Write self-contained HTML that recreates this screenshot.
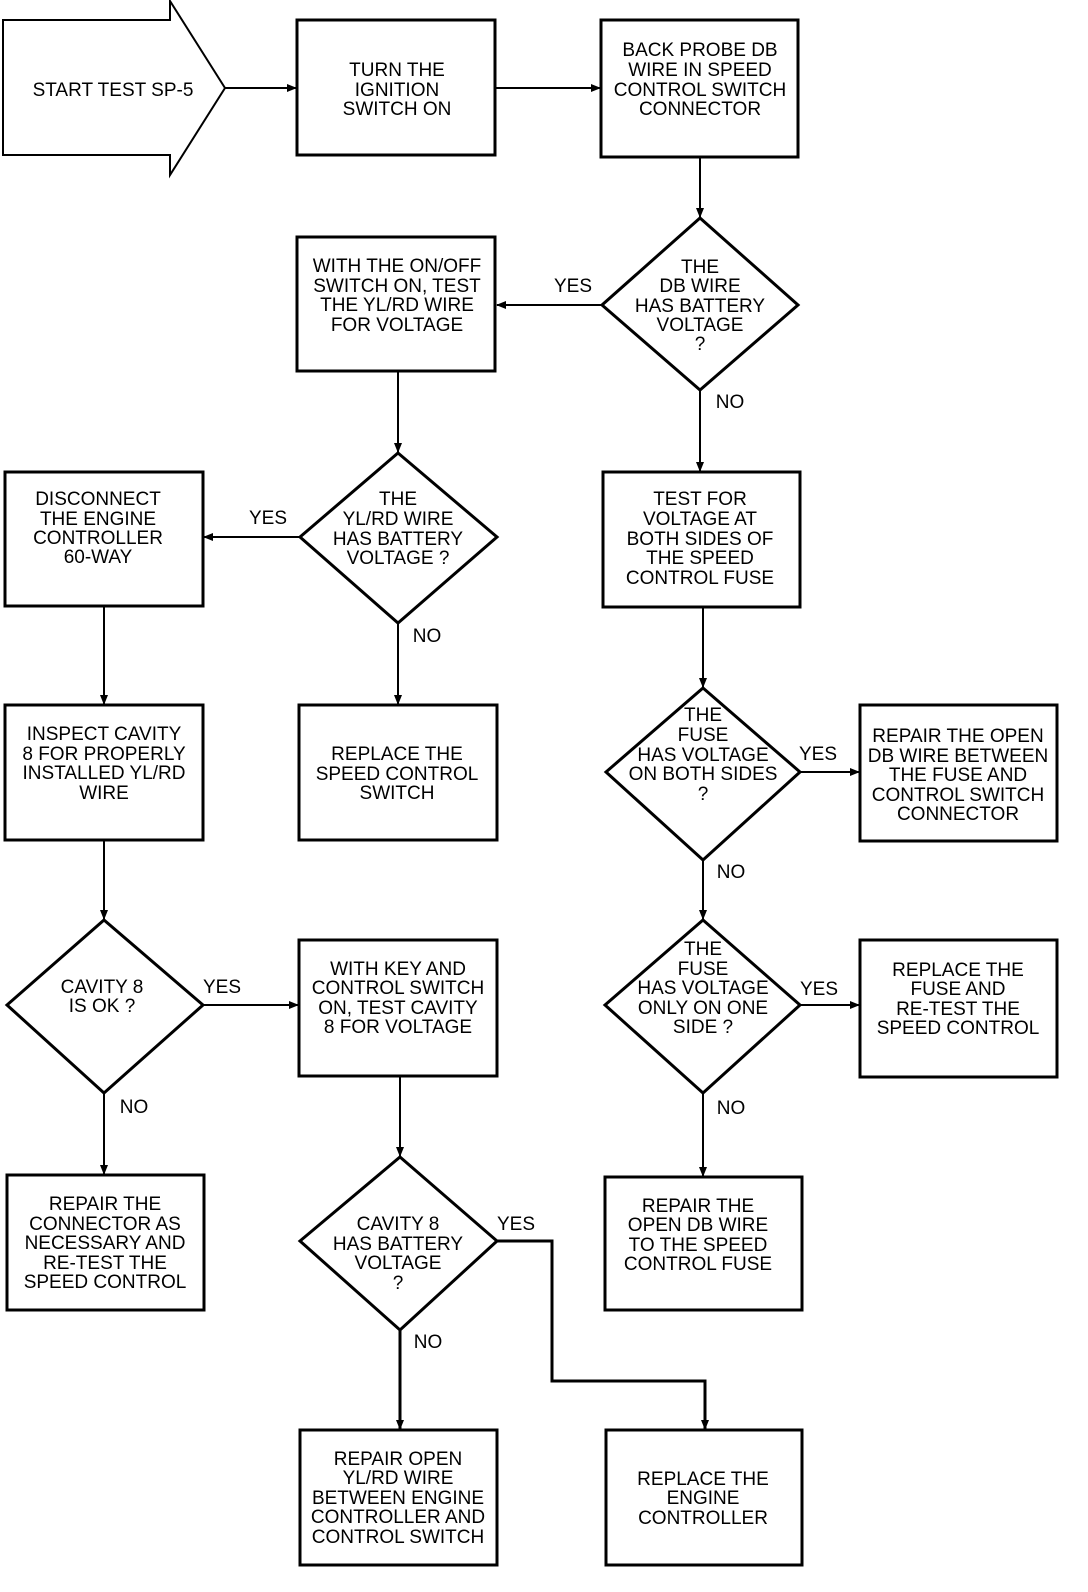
<!DOCTYPE html>
<html><head><meta charset="utf-8"><style>
html,body{margin:0;padding:0;background:#fff}
svg{display:block}
text{font-family:"Liberation Sans",sans-serif;font-size:19px;text-anchor:middle;fill:#000}
</style></head><body>
<svg width="1088" height="1592" viewBox="0 0 1088 1592" xmlns="http://www.w3.org/2000/svg">
<defs><marker id="a" markerWidth="10" markerHeight="8" refX="9" refY="4" orient="auto" markerUnits="userSpaceOnUse"><path d="M0,0 L10,4 L0,8 z" fill="#000"/></marker></defs>
<g fill="none" stroke="#000" stroke-width="3">
<path d="M3,20 H170 V1 L225,88 L170,175 V155 H3 Z" stroke-width="2"/>
<rect x="297" y="20" width="198" height="135"/>
<rect x="601" y="20" width="197" height="137"/>
<rect x="297" y="237" width="198" height="134"/>
<rect x="603" y="472" width="197" height="135"/>
<rect x="5" y="472" width="198" height="134"/>
<rect x="299" y="705" width="198" height="135"/>
<rect x="5" y="705" width="198" height="135"/>
<rect x="860" y="705" width="197" height="136"/>
<rect x="860" y="940" width="197" height="137"/>
<rect x="605" y="1177" width="197" height="133"/>
<rect x="299" y="940" width="198" height="136"/>
<rect x="7" y="1175" width="197" height="135"/>
<rect x="300" y="1430" width="197" height="135"/>
<rect x="606" y="1430" width="196" height="135"/>
<path d="M700,218 L798,305 L700,390 L602,305 Z"/>
<path d="M398,453 L497,537 L398,623 L300,537 Z"/>
<path d="M703,688 L800,772 L703,860 L606,772 Z"/>
<path d="M703,920 L800,1005 L703,1093 L605,1005 Z"/>
<path d="M104,920 L203,1005 L104,1093 L7,1005 Z"/>
<path d="M400,1157 L497,1241 L400,1330 L300,1241 Z"/>
</g>
<g fill="none" stroke="#000" stroke-width="2" marker-end="url(#a)">
<path d="M225,88 H296"/>
<path d="M495,88 H600"/>
<path d="M700,157 V217"/>
<path d="M602,305 H497"/>
<path d="M700,390 V471"/>
<path d="M398,371 V452"/>
<path d="M300,537 H204"/>
<path d="M398,623 V704"/>
<path d="M104,606 V704"/>
<path d="M703,607 V687"/>
<path d="M800,772 H859"/>
<path d="M703,860 V919"/>
<path d="M800,1005 H859"/>
<path d="M703,1093 V1176"/>
<path d="M104,840 V919"/>
<path d="M203,1005 H298"/>
<path d="M104,1093 V1174"/>
<path d="M400,1076 V1156"/>
<path d="M497,1241 H552 V1381 H705 V1429" stroke-width="3"/>
<path d="M400,1330 V1429" stroke-width="3"/>
</g>
<text x="113" y="96">START TEST SP-5</text>
<text x="397" y="76">TURN THE</text><text x="397" y="96">IGNITION</text><text x="397" y="115">SWITCH ON</text>
<text x="700" y="56">BACK PROBE DB</text><text x="700" y="76">WIRE IN SPEED</text><text x="700" y="96">CONTROL SWITCH</text><text x="700" y="115">CONNECTOR</text>
<text x="700" y="273">THE</text><text x="700" y="292">DB WIRE</text><text x="700" y="312">HAS BATTERY</text><text x="700" y="331">VOLTAGE</text><text x="700" y="350">?</text>
<text x="573" y="292">YES</text><text x="730" y="408">NO</text>
<text x="397" y="272">WITH THE ON/OFF</text><text x="397" y="292">SWITCH ON, TEST</text><text x="397" y="311">THE YL/RD WIRE</text><text x="397" y="331">FOR VOLTAGE</text>
<text x="398" y="505">THE</text><text x="398" y="525">YL/RD WIRE</text><text x="398" y="545">HAS BATTERY</text><text x="398" y="564">VOLTAGE ?</text>
<text x="268" y="524">YES</text><text x="427" y="642">NO</text>
<text x="98" y="505">DISCONNECT</text><text x="98" y="525">THE ENGINE</text><text x="98" y="544">CONTROLLER</text><text x="98" y="563">60-WAY</text>
<text x="700" y="505">TEST FOR</text><text x="700" y="525">VOLTAGE AT</text><text x="700" y="545">BOTH SIDES OF</text><text x="700" y="564">THE SPEED</text><text x="700" y="584">CONTROL FUSE</text>
<text x="104" y="740">INSPECT CAVITY</text><text x="104" y="760">8 FOR PROPERLY</text><text x="104" y="779">INSTALLED YL/RD</text><text x="104" y="799">WIRE</text>
<text x="397" y="760">REPLACE THE</text><text x="397" y="780">SPEED CONTROL</text><text x="397" y="799">SWITCH</text>
<text x="703" y="721">THE</text><text x="703" y="741">FUSE</text><text x="703" y="761">HAS VOLTAGE</text><text x="703" y="780">ON BOTH SIDES</text><text x="703" y="800">?</text>
<text x="818" y="760">YES</text><text x="731" y="878">NO</text>
<text x="958" y="742">REPAIR THE OPEN</text><text x="958" y="762">DB WIRE BETWEEN</text><text x="958" y="781">THE FUSE AND</text><text x="958" y="801">CONTROL SWITCH</text><text x="958" y="820">CONNECTOR</text>
<text x="102" y="993">CAVITY 8</text><text x="102" y="1012">IS OK ?</text>
<text x="222" y="993">YES</text><text x="134" y="1113">NO</text>
<text x="398" y="975">WITH KEY AND</text><text x="398" y="994">CONTROL SWITCH</text><text x="398" y="1014">ON, TEST CAVITY</text><text x="398" y="1033">8 FOR VOLTAGE</text>
<text x="703" y="955">THE</text><text x="703" y="975">FUSE</text><text x="703" y="994">HAS VOLTAGE</text><text x="703" y="1014">ONLY ON ONE</text><text x="703" y="1033">SIDE ?</text>
<text x="819" y="995">YES</text><text x="731" y="1114">NO</text>
<text x="958" y="976">REPLACE THE</text><text x="958" y="995">FUSE AND</text><text x="958" y="1015">RE-TEST THE</text><text x="958" y="1034">SPEED CONTROL</text>
<text x="105" y="1210">REPAIR THE</text><text x="105" y="1230">CONNECTOR AS</text><text x="105" y="1249">NECESSARY AND</text><text x="105" y="1269">RE-TEST THE</text><text x="105" y="1288">SPEED CONTROL</text>
<text x="398" y="1230">CAVITY 8</text><text x="398" y="1250">HAS BATTERY</text><text x="398" y="1269">VOLTAGE</text><text x="398" y="1289">?</text>
<text x="516" y="1230">YES</text><text x="428" y="1348">NO</text>
<text x="698" y="1212">REPAIR THE</text><text x="698" y="1231">OPEN DB WIRE</text><text x="698" y="1251">TO THE SPEED</text><text x="698" y="1270">CONTROL FUSE</text>
<text x="398" y="1465">REPAIR OPEN</text><text x="398" y="1484">YL/RD WIRE</text><text x="398" y="1504">BETWEEN ENGINE</text><text x="398" y="1523">CONTROLLER AND</text><text x="398" y="1543">CONTROL SWITCH</text>
<text x="703" y="1485">REPLACE THE</text><text x="703" y="1504">ENGINE</text><text x="703" y="1524">CONTROLLER</text>
</svg>
</body></html>
